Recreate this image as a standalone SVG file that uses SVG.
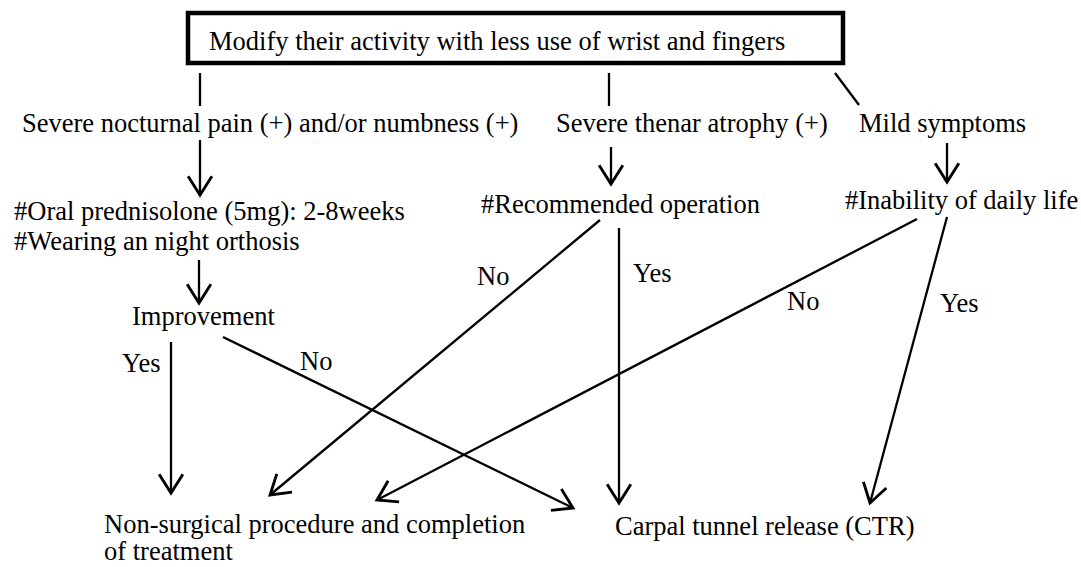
<svg xmlns="http://www.w3.org/2000/svg" width="1081" height="567" viewBox="0 0 1081 567">
<style>
text{font-family:"Liberation Serif","Times New Roman",serif;font-size:26.5px;fill:#000}
.c line{stroke:#000;stroke-width:2.3;fill:none}
.a{marker-end:url(#ah)}
</style>
<defs>
<marker id="ah" markerUnits="userSpaceOnUse" markerWidth="30" markerHeight="30" viewBox="-16 -12 18 24" refX="0" refY="0" orient="auto">
<path d="M-15,-9.5 L0,0 L-15,9.5" fill="none" stroke="#000" stroke-width="2.3"/>
</marker>
</defs>
<rect width="1081" height="567" fill="#fff"/>
<g id="top"><rect x="188" y="13" width="655" height="50" fill="none" stroke="#000" stroke-width="4.5"/><text x="209" y="50">Modify their activity with less use of wrist and fingers</text></g>
<g id="n1"><text x="22" y="132">Severe nocturnal pain (+) and/or numbness (+)</text></g>
<g id="n2"><text x="556" y="132">Severe thenar atrophy (+)</text></g>
<g id="n3"><text x="859" y="132">Mild symptoms</text></g>
<g id="n4"><text x="14" y="220">#Oral prednisolone (5mg): 2-8weeks</text><text x="14" y="250">#Wearing an night orthosis</text></g>
<g id="n5"><text x="481" y="213">#Recommended operation</text></g>
<g id="n6"><text x="845" y="209">#Inability of daily life</text></g>
<g id="n7"><text x="132" y="325">Improvement</text></g>
<g id="n8"><text x="104" y="533">Non-surgical procedure and completion</text><text x="104" y="560">of treatment</text></g>
<g id="n9"><text x="615" y="535">Carpal tunnel release (CTR)</text></g>
<g id="labels">
<text x="122" y="372">Yes</text><text x="300" y="370">No</text>
<text x="477" y="285">No</text><text x="633" y="282">Yes</text>
<text x="787" y="310">No</text><text x="940" y="312">Yes</text>
</g>
<g id="connectors" class="c">
<line x1="200" y1="73" x2="200" y2="106"/>
<line x1="609" y1="73" x2="609" y2="106"/>
<line x1="835" y1="73" x2="859" y2="105"/>
<line class="a" x1="200" y1="140" x2="200" y2="195"/>
<line class="a" x1="611" y1="147" x2="611" y2="184"/>
<line class="a" x1="947" y1="143" x2="947" y2="182"/>
<line class="a" x1="199" y1="260" x2="199" y2="303"/>
<line class="a" x1="171" y1="342" x2="171" y2="493"/>
<line class="a" x1="223" y1="337" x2="573" y2="508"/>
<line class="a" x1="600" y1="220" x2="270" y2="495"/>
<line class="a" x1="619" y1="228" x2="619" y2="503"/>
<line class="a" x1="917" y1="219" x2="377" y2="500"/>
<line class="a" x1="947" y1="217" x2="870" y2="503"/>
</g>
</svg>
